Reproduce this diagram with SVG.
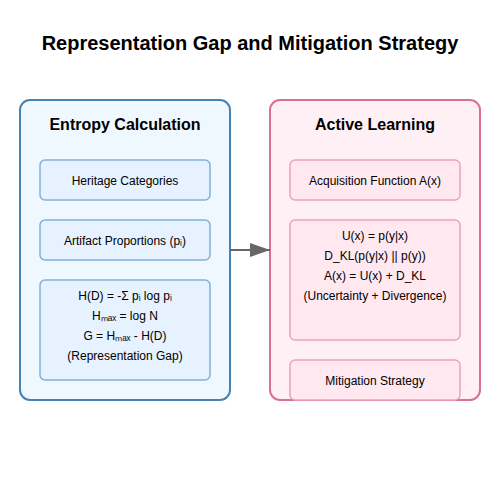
<svg xmlns="http://www.w3.org/2000/svg" width="500" height="500" viewBox="0 0 500 500">
<defs>
<marker id="arrow" markerWidth="10" markerHeight="7" refX="10" refY="3.5" orient="auto" markerUnits="strokeWidth">
<polygon points="0 0, 10 3.5, 0 7" fill="#666"/>
</marker>
<style>
text{font-family:"Liberation Sans",Arial,sans-serif;fill:#000;text-anchor:middle}
.title{font-size:20px;font-weight:bold}
.head{font-size:16px;font-weight:bold}
.t{font-size:12px}
.lc{fill:#f0f8ff;stroke:#4682b4;stroke-width:2}
.lb{fill:#e6f2ff;stroke:#84b0d8;stroke-width:1.5}
.rc{fill:#fff0f5;stroke:#db7093;stroke-width:2}
.rb{fill:#ffe8f0;stroke:#f0a0bc;stroke-width:1.5}
</style>
</defs>
<rect width="500" height="500" fill="#fff"/>
<text class="title" x="250" y="50">Representation Gap and Mitigation Strategy</text>
<g id="entropy">
<rect class="lc" x="20" y="100" width="210" height="300" rx="10"/>
<text class="head" x="125" y="130">Entropy Calculation</text>
</g>
<g id="heritage">
<rect class="lb" x="40" y="160" width="170" height="40" rx="5"/>
<text class="t" x="125" y="185">Heritage Categories</text>
</g>
<g id="artifact">
<rect class="lb" x="40" y="220" width="170" height="40" rx="5"/>
<text class="t" x="125" y="245">Artifact Proportions (pᵢ)</text>
</g>
<g id="formula">
<rect class="lb" x="40" y="280" width="170" height="100" rx="5"/>
<text class="t" x="125" y="300">H(D) = -Σ pᵢ log pᵢ</text>
<text class="t" x="125" y="320">Hₘₐₓ = log N</text>
<text class="t" x="125" y="340">G = Hₘₐₓ - H(D)</text>
<text class="t" x="125" y="360">(Representation Gap)</text>
</g>
<g id="active">
<rect class="rc" x="270" y="100" width="210" height="300" rx="10"/>
<text class="head" x="375" y="130">Active Learning</text>
</g>
<g id="acquisition">
<rect class="rb" x="290" y="160" width="170" height="40" rx="5"/>
<text class="t" x="375" y="185">Acquisition Function A(x)</text>
</g>
<g id="scores">
<rect class="rb" x="290" y="220" width="170" height="120" rx="5"/>
<text class="t" x="375" y="240">U(x) = p(y|x)</text>
<text class="t" x="375" y="260">D_KL(p(y|x) || p(y))</text>
<text class="t" x="375" y="280">A(x) = U(x) + D_KL</text>
<text class="t" x="375" y="300">(Uncertainty + Divergence)</text>
</g>
<g id="mitigation">
<rect class="rb" x="290" y="360" width="170" height="40" rx="5"/>
<text class="t" x="375" y="385">Mitigation Strategy</text>
</g>
<g id="connectors">
<line x1="230" y1="250" x2="270" y2="250" stroke="#666" stroke-width="2" marker-end="url(#arrow)"/>
</g>
</svg>
